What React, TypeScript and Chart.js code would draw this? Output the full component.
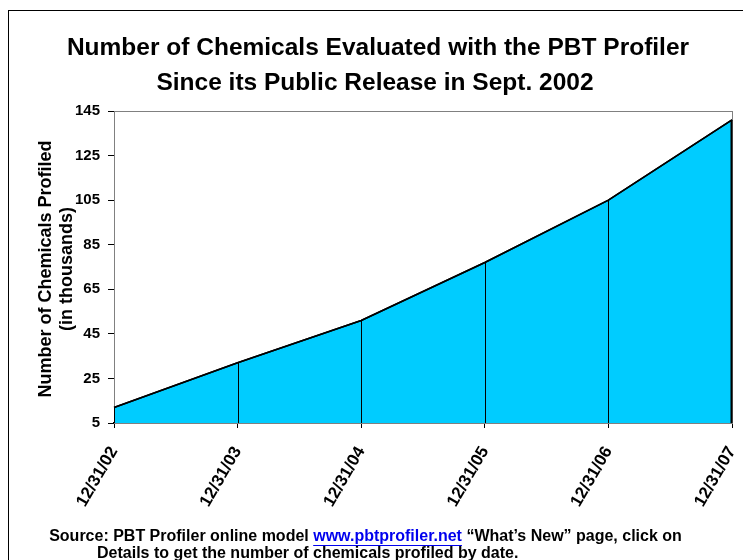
import React, { useEffect, useRef } from "react";
import { Chart, registerables } from "chart.js";

Chart.register(...registerables);

const categories = ["12/31/02", "12/31/03", "12/31/04", "12/31/05", "12/31/06", "12/31/07"];
const chemicalsProfiled = [12, 32, 51, 77, 105, 141];
const yTickValues = [5, 25, 45, 65, 85, 105, 125, 145];
const titleLines = [
  "Number of Chemicals Evaluated with the PBT Profiler",
  "Since its Public Release in Sept. 2002",
];
const yTitleLines = ["Number of Chemicals Profiled", "(in thousands)"];
const sourceLine1 = ["Source: PBT Profiler online model ", "www.pbtprofiler.net", " \u201CWhat\u2019s New\u201D page, click on"];
const sourceLine2 = "Details to get the number of chemicals profiled by date.";

const FONT = "'Liberation Sans', Arial, sans-serif";

const decorPlugin = {
  id: "decor",
  beforeDraw(chart: any) {
    const ctx = chart.ctx;
    ctx.save();
    ctx.fillStyle = "#ffffff";
    ctx.fillRect(0, 0, chart.width, chart.height);
    ctx.strokeStyle = "#000000";
    ctx.lineWidth = 1;
    ctx.strokeRect(8.5, 10.5, chart.width + 10, chart.height + 10);
    ctx.restore();
  },
  beforeDatasetsDraw(chart: any) {
    const ctx = chart.ctx;
    const a = chart.chartArea;
    ctx.save();
    ctx.strokeStyle = "#808080";
    ctx.lineWidth = 1;
    ctx.strokeRect(a.left + 0.5, a.top + 0.5, a.right - a.left, a.bottom - a.top);
    ctx.restore();
  },
  afterDatasetsDraw(chart: any) {
    const ctx = chart.ctx;
    const a = chart.chartArea;
    const meta = chart.getDatasetMeta(0);
    ctx.save();
    ctx.strokeStyle = "#000000";
    ctx.lineWidth = 1;
    meta.data.forEach((pt: any, i: number) => {
      const x = Math.round(pt.x) + (i === meta.data.length - 1 ? -0.5 : 0.5);
      ctx.beginPath();
      ctx.moveTo(x, pt.y);
      ctx.lineTo(x, a.bottom);
      ctx.stroke();
    });
    ctx.lineWidth = 1.6;
    ctx.beginPath();
    meta.data.forEach((pt: any, i: number) => {
      if (i === 0) ctx.moveTo(pt.x, pt.y);
      else ctx.lineTo(pt.x, pt.y);
    });
    ctx.stroke();
    const last = meta.data[meta.data.length - 1];
    ctx.lineWidth = 2;
    ctx.beginPath();
    ctx.moveTo(last.x - 0.5, last.y);
    ctx.lineTo(last.x - 0.5, a.bottom);
    ctx.stroke();
    ctx.restore();
  },
  afterDraw(chart: any) {
    const ctx = chart.ctx;
    ctx.save();
    ctx.fillStyle = "#000000";
    ctx.textAlign = "center";
    ctx.textBaseline = "middle";
    ctx.font = `bold 24.5px ${FONT}`;
    ctx.fillText(titleLines[0], 378, 48);
    ctx.fillText(titleLines[1], 375, 83);

    // y axis title
    ctx.save();
    ctx.translate(46, 269);
    ctx.rotate(-Math.PI / 2);
    ctx.font = `bold 18px ${FONT}`;
    ctx.fillText(yTitleLines[0], 0, 0);
    ctx.fillText(yTitleLines[1], 0, 21);
    ctx.restore();

    // source
    ctx.font = `bold 16px ${FONT}`;
    ctx.textAlign = "left";
    const widths = sourceLine1.map((s) => ctx.measureText(s).width);
    const total = widths.reduce((p, c) => p + c, 0);
    let x = 365.5 - total / 2;
    const y1 = 537;
    sourceLine1.forEach((s, i) => {
      ctx.fillStyle = i === 1 ? "#0000ee" : "#000000";
      ctx.fillText(s, x, y1);
      if (i === 1) {
        ctx.strokeStyle = "#0000ee";
        ctx.lineWidth = 1;
        ctx.beginPath();
        ctx.moveTo(x, y1 + 8.5);
        ctx.lineTo(x + widths[i], y1 + 8.5);
        ctx.stroke();
      }
      x += widths[i];
    });
    ctx.fillStyle = "#000000";
    ctx.fillText(sourceLine2, 97, 554);
    ctx.restore();
  },
};

export default function App() {
  const ref = useRef<HTMLCanvasElement | null>(null);
  useEffect(() => {
    if (!ref.current) return;
    const chart = new Chart(ref.current, {
      type: "line",
      data: {
        labels: categories,
        datasets: [
          {
            data: chemicalsProfiled,
            borderColor: "#000000",
            borderWidth: 1.6,
            backgroundColor: "#00ccff",
            fill: "start",
            pointRadius: 0,
            tension: 0,
          },
        ],
      },
      options: {
        animation: false,
        responsive: false,
        devicePixelRatio: 1,
        layout: { padding: { left: 8, right: 11, top: 111, bottom: 0 } },
        plugins: { legend: { display: false }, tooltip: { enabled: false }, title: { display: false } },
        scales: {
          x: {
            type: "category",
            offset: false,
            grid: { drawOnChartArea: false, drawTicks: true, tickLength: 5, color: "#000000" },
            border: { display: true, color: "#000000", width: 2 },
            ticks: {
              autoSkip: false,
              minRotation: 60,
              maxRotation: 60,
              padding: 15,
              color: "#000000",
              font: { family: FONT, size: 17, weight: "bold" },
            },
            afterFit(scale: any) {
              scale.height = 137;
              scale.paddingLeft = 0;
              scale.paddingRight = 0;
            },
          },
          y: {
            min: 5,
            max: 145,
            grid: { drawOnChartArea: false, drawTicks: true, tickLength: 6, color: "#000000" },
            border: { display: true, color: "#000000", width: 1 },
            ticks: {
              padding: 8,
              color: "#000000",
              font: { family: FONT, size: 15, weight: "bold" },
            },
            afterBuildTicks(scale: any) {
              scale.ticks = yTickValues.map((v) => ({ value: v }));
            },
            afterFit(scale: any) {
              scale.width = 106;
            },
          },
        },
      },
      plugins: [decorPlugin],
    } as any);
    return () => chart.destroy();
  }, []);
  return (
    <div style={{ position: "absolute", left: 0, top: 0, width: 743, height: 560, overflow: "hidden" }}>
      <canvas ref={ref} width={743} height={560} style={{ display: "block" }} />
    </div>
  );
}
